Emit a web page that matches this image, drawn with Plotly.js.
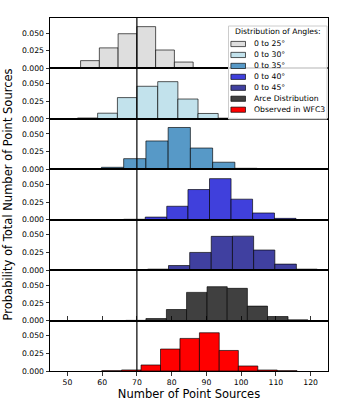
<!DOCTYPE html>
<html>
<head>
<meta charset="utf-8">
<script src="https://cdn.plot.ly/plotly-3.0.1.min.js"></script>
<style>
  body { margin: 0; background: #fff; }
  #chart { width: 345px; height: 404px; }
</style>
</head>
<body>
<div id="chart"></div>
<script>
// series names and colours (top panel first)
var names = ["0 to 25°", "0 to 30°", "0 to 35°", "0 to 40°", "0 to 45°", "Arce Distribution", "Observed in WFC3"];
var colors = ["#dedede", "#c2e2ec", "#5799c7", "#4040dc", "#4040a0", "#404040", "#ff0000"];

// histogram bin edges and probabilities
var edges25 = [48.4, 53.8, 59.2, 64.6, 70.0, 75.4, 80.8, 86.2, 91.6];
var prob25 = [0.0012, 0.011, 0.029, 0.049, 0.059, 0.026, 0.009, 0.0012];

var edges30 = [52.9, 58.7, 64.4, 70.0, 76.0, 81.8, 87.6, 93.4, 99.1];
var prob30 = [0.0012, 0.008, 0.030, 0.046, 0.0525, 0.028, 0.0076, 0.001];

var edges35 = [53.4, 59.8, 66.2, 72.6, 79.0, 85.4, 91.8, 98.2, 104.6, 111.0];
var prob35 = [0.0004, 0.0028, 0.015, 0.040, 0.059, 0.030, 0.010, 0.0014, 0.0004];

var edges40 = [59.9, 66.2, 72.4, 78.6, 84.7, 90.9, 97.1, 103.3, 109.6, 115.8];
var prob40 = [0.0003, 0.0006, 0.0037, 0.019, 0.0426, 0.058, 0.029, 0.0095, 0.0019];

var edges45 = [73.1, 79.1, 85.2, 91.4, 97.5, 103.6, 109.7, 115.9, 121.9];
var prob45 = [0.0014, 0.0065, 0.025, 0.0477, 0.048, 0.0284, 0.0085, 0.0014];

var edgesArce = [66.8, 72.6, 78.5, 84.3, 90.2, 96.0, 101.8, 107.6, 113.5, 119.2];
var probArce = [0.0003, 0.0028, 0.0156, 0.0398, 0.0478, 0.0455, 0.0204, 0.0057, 0.001];

var edgesObs = [59.9, 65.6, 71.2, 76.8, 82.4, 88.0, 93.7, 99.2, 104.8, 110.4, 116.1];
var probObs = [0.0004, 0.0015, 0.0085, 0.031, 0.046, 0.054, 0.029, 0.0071, 0.0014, 0.0004];

var allEdges = [edges25, edges30, edges35, edges40, edges45, edgesArce, edgesObs];
var allProb = [prob25, prob30, prob35, prob40, prob45, probArce, probObs];

var refLine = 70;

// plot area in pixels
var L = 50, R = 327.7, T = 18, B = 371;
function px(x) { return (x - L) / (R - L); }
function py(y) { return (B - y) / (B - T); }

var font = "DejaVu Sans, sans-serif";
var n = names.length;
var data = [];
var layout = {
  width: 345, height: 404,
  margin: {l: L, r: 345 - R, t: T, b: 404 - B},
  paper_bgcolor: "#fff", plot_bgcolor: "#fff",
  showlegend: false,
  barmode: "overlay",
  font: {family: font, color: "#000"},
  xaxis: {
    range: [45, 125], tick0: 50, dtick: 10,
    anchor: "y7",
    showgrid: false, zeroline: false,
    showline: true, mirror: "all", linecolor: "#000", linewidth: 1,
    ticks: "outside", ticklen: 3.5, tickwidth: 0.8, tickcolor: "#000",
    tickfont: {size: 7.7, family: font},
    title: {text: "Number of Point Sources", font: {size: 11.5, family: font}, standoff: 4}
  },
  shapes: [],
  annotations: []
};

for (var i = 0; i < n; i++) {
  var e = allEdges[i];
  var xs = [], ws = [];
  for (var k = 0; k < e.length - 1; k++) {
    xs.push((e[k] + e[k + 1]) / 2);
    ws.push(e[k + 1] - e[k]);
  }
  var yname = i === 0 ? "y" : "y" + (i + 1);
  data.push({
    type: "bar", name: names[i],
    x: xs, y: allProb[i], width: ws,
    xaxis: "x", yaxis: yname,
    marker: {color: colors[i], line: {color: "rgba(0,0,0,0.65)", width: 1}},
    hoverinfo: "x+y"
  });
  layout[i === 0 ? "yaxis" : "yaxis" + (i + 1)] = {
    domain: [1 - (i + 1) / n, 1 - i / n],
    range: [0, 0.0712],
    anchor: "x",
    tickvals: [0, 0.025, 0.05], tickformat: ".3f",
    showgrid: false, zeroline: false,
    showline: true, mirror: true, linecolor: "#000", linewidth: 1,
    ticks: "outside", ticklen: 3.5, tickwidth: 0.8, tickcolor: "#000",
    tickfont: {size: 7.7, family: font}
  };
}

// vertical reference line through all panels
layout.shapes.push({
  type: "line", xref: "x", yref: "paper", x0: refLine, x1: refLine, y0: 0, y1: 1,
  line: {color: "#000", width: 1.2}, layer: "above"
});

// shared y title
layout.annotations.push({
  text: "Probability of Total Number of Point Sources",
  xref: "paper", yref: "paper", x: px(8), y: 0.5,
  textangle: -90, showarrow: false, xanchor: "center", yanchor: "middle",
  font: {size: 11.5, family: font}
});

// legend box, drawn by hand to keep matplotlib's compact spacing
layout.shapes.push({
  type: "rect", xref: "paper", yref: "paper",
  x0: px(228.3), x1: px(326.7), y0: py(119), y1: py(26),
  fillcolor: "rgba(255,255,255,0.85)", line: {color: "#cccccc", width: 1}, layer: "above"
});
layout.annotations.push({
  text: "Distribution of Angles:", xref: "paper", yref: "paper",
  x: px(277.5), y: py(31.5), showarrow: false, xanchor: "center", yanchor: "middle",
  font: {size: 7.7, family: font}
});
for (var j = 0; j < n; j++) {
  var cy = 44 + j * 10.95;
  layout.shapes.push({
    type: "rect", xref: "paper", yref: "paper",
    x0: px(230.7), x1: px(245.3), y0: py(cy + 2.6), y1: py(cy - 2.6),
    fillcolor: colors[j], line: {color: "rgba(0,0,0,0.65)", width: 1}, layer: "above"
  });
  layout.annotations.push({
    text: names[j], xref: "paper", yref: "paper",
    x: px(251.5), y: py(cy), showarrow: false, xanchor: "left", yanchor: "middle",
    font: {size: 7.7, family: font}
  });
}

Plotly.newPlot("chart", data, layout, {displayModeBar: false, staticPlot: true});
</script>
</body>
</html>
